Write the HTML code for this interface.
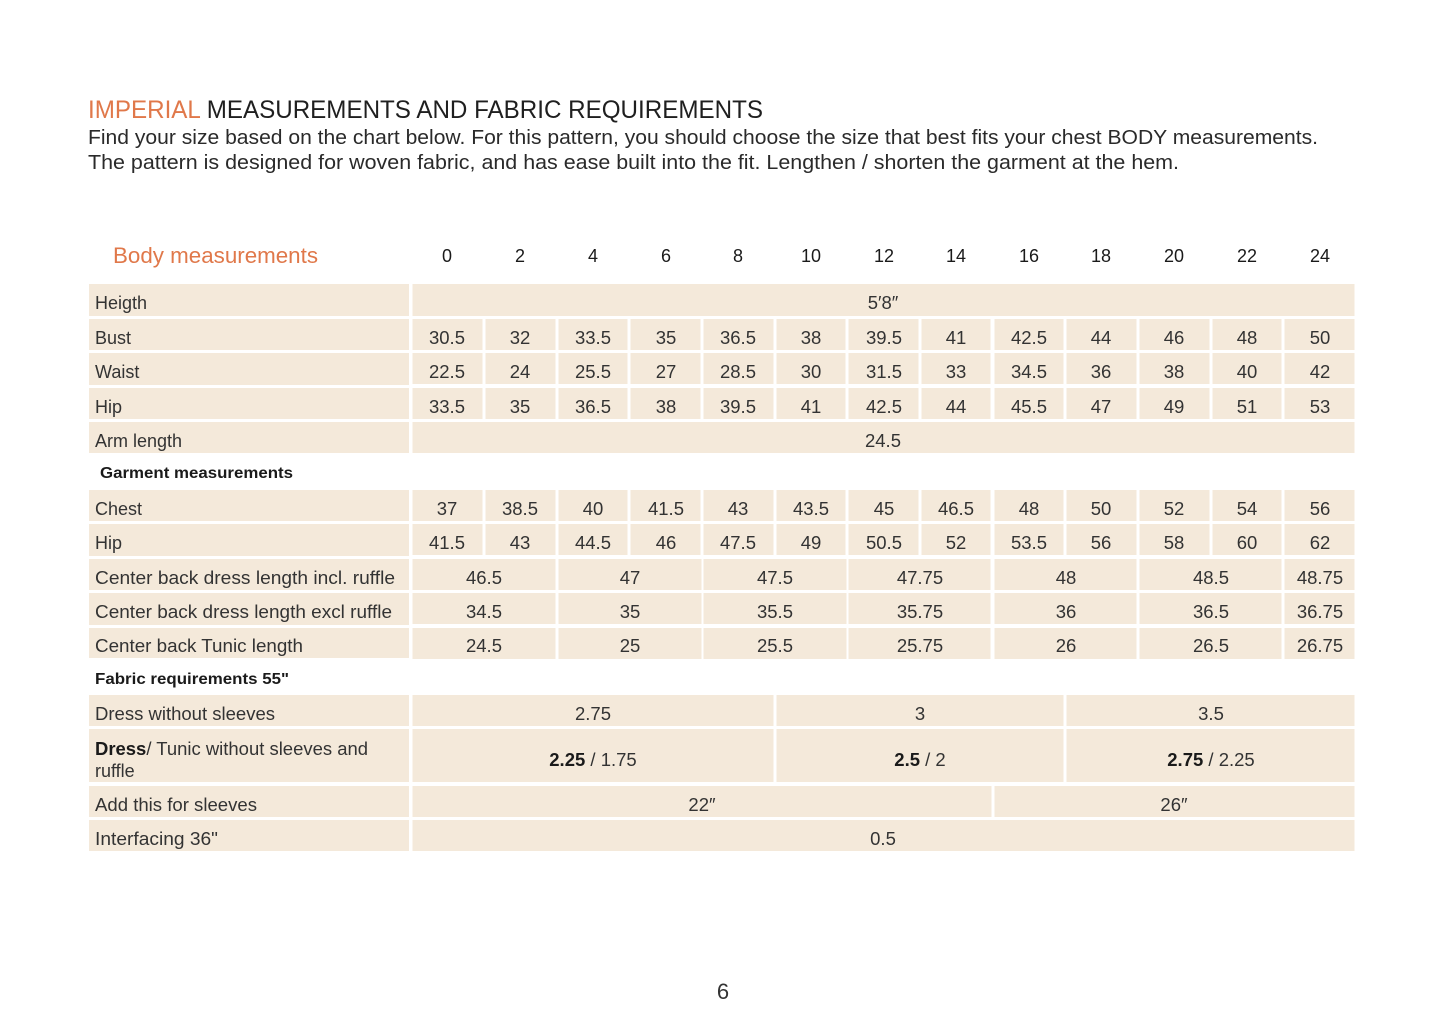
<!DOCTYPE html>
<html><head><meta charset="utf-8"><style>
html,body{margin:0;padding:0;background:#fff;}
svg{display:block;}
text{font-family:"Liberation Sans",sans-serif;}
.c{font-size:18.5px;fill:#333;text-anchor:middle;}
.l{font-size:18px;fill:#333;}
.h{font-size:18px;fill:#1a1a1a;text-anchor:middle;}
.s{font-size:16px;fill:#1a1a1a;font-weight:bold;}
rect{fill:#f4e9da;}
</style></head><body>
<svg width="1445" height="1030" viewBox="0 0 1445 1030" xmlns="http://www.w3.org/2000/svg">
<text x="88" y="118" style="font-size:25px" textLength="675" lengthAdjust="spacingAndGlyphs"><tspan fill="#e0784a">IMPERIAL</tspan><tspan fill="#1f1f1f"> MEASUREMENTS AND FABRIC REQUIREMENTS</tspan></text>
<text x="88" y="144" style="font-size:20px;fill:#2a2a2a" textLength="1230" lengthAdjust="spacingAndGlyphs">Find your size based on the chart below. For this pattern, you should choose the size that best fits your chest BODY measurements.</text>
<text x="88" y="169" style="font-size:20px;fill:#2a2a2a" textLength="1091" lengthAdjust="spacingAndGlyphs">The pattern is designed for woven fabric, and has ease built into the fit. Lengthen / shorten the garment at the hem.</text>

<text x="113" y="263" style="font-size:22px;fill:#e0784a" textLength="205" lengthAdjust="spacingAndGlyphs">Body measurements</text>
<g>
<text class="h" x="447" y="262">0</text><text class="h" x="520" y="262">2</text><text class="h" x="593" y="262">4</text><text class="h" x="666" y="262">6</text><text class="h" x="738" y="262">8</text><text class="h" x="811" y="262">10</text><text class="h" x="884" y="262">12</text><text class="h" x="956" y="262">14</text><text class="h" x="1029" y="262">16</text><text class="h" x="1101" y="262">18</text><text class="h" x="1174" y="262">20</text><text class="h" x="1247" y="262">22</text><text class="h" x="1320" y="262">24</text>
</g>

<rect x="89" y="284" width="320" height="32"/>
<rect x="89" y="319" width="320" height="31"/>
<rect x="89" y="353" width="320" height="32"/>
<rect x="89" y="388" width="320" height="31"/>
<rect x="89" y="422" width="320" height="31"/>
<rect x="89" y="490" width="320" height="31"/>
<rect x="89" y="524" width="320" height="32"/>
<rect x="89" y="559" width="320" height="31"/>
<rect x="89" y="593" width="320" height="32"/>
<rect x="89" y="628" width="320" height="30"/>
<rect x="89" y="695" width="320" height="31"/>
<rect x="89" y="729" width="320" height="53"/>
<rect x="89" y="786" width="320" height="31"/>
<rect x="89" y="820" width="320" height="31"/>

<text class="l" x="95" y="309">Heigth</text>
<text class="l" x="95" y="344">Bust</text>
<text class="l" x="95" y="378">Waist</text>
<text class="l" x="95" y="413">Hip</text>
<text class="l" x="95" y="447">Arm length</text>
<text class="s" x="100" y="478" textLength="193" lengthAdjust="spacingAndGlyphs">Garment measurements</text>
<text class="l" x="95" y="515">Chest</text>
<text class="l" x="95" y="549">Hip</text>
<text class="l" x="95" y="584" textLength="300" lengthAdjust="spacingAndGlyphs">Center back dress length incl. ruffle</text>
<text class="l" x="95" y="618" textLength="297" lengthAdjust="spacingAndGlyphs">Center back dress length excl ruffle</text>
<text class="l" x="95" y="652" textLength="208" lengthAdjust="spacingAndGlyphs">Center back Tunic length</text>
<text class="s" x="95" y="684" textLength="194" lengthAdjust="spacingAndGlyphs">Fabric requirements 55"</text>
<text class="l" x="95" y="720" textLength="180" lengthAdjust="spacingAndGlyphs">Dress without sleeves</text>
<text class="l" x="95" y="755" textLength="273" lengthAdjust="spacingAndGlyphs"><tspan font-weight="bold" fill="#1a1a1a">Dress</tspan>/ Tunic without sleeves and</text>
<text class="l" x="95" y="777">ruffle</text>
<text class="l" x="95" y="811" textLength="162" lengthAdjust="spacingAndGlyphs">Add this for sleeves</text>
<text class="l" x="95" y="845" textLength="123" lengthAdjust="spacingAndGlyphs">Interfacing 36"</text>

<rect x="412.5" y="284" width="942" height="32"/><text class="c" x="883" y="309">5′8″</text>
<rect x="412.5" y="422" width="942" height="31"/><text class="c" x="883" y="447">24.5</text>
<rect x="412.5" y="820" width="942" height="31"/><text class="c" x="883" y="845">0.5</text>

<g id="cells">
<rect x="412.5" y="319" width="70" height="31"/><rect x="485.5" y="319" width="70" height="31"/><rect x="558.5" y="319" width="69" height="31"/><rect x="630.5" y="319" width="70" height="31"/><rect x="703.5" y="319" width="70" height="31"/><rect x="776.5" y="319" width="69" height="31"/><rect x="848.5" y="319" width="70" height="31"/><rect x="921.5" y="319" width="69" height="31"/><rect x="994.5" y="319" width="69" height="31"/><rect x="1066.5" y="319" width="70" height="31"/><rect x="1139.5" y="319" width="70" height="31"/><rect x="1212.5" y="319" width="69" height="31"/><rect x="1284.5" y="319" width="70" height="31"/>
</g>
<use href="#cells" y="34"/>
<use href="#cells" y="69"/>
<use href="#cells" y="171"/>
<use href="#cells" y="205"/>

<g>
<text class="c" x="447" y="344">30.5</text><text class="c" x="520" y="344">32</text><text class="c" x="593" y="344">33.5</text><text class="c" x="666" y="344">35</text><text class="c" x="738" y="344">36.5</text><text class="c" x="811" y="344">38</text><text class="c" x="884" y="344">39.5</text><text class="c" x="956" y="344">41</text><text class="c" x="1029" y="344">42.5</text><text class="c" x="1101" y="344">44</text><text class="c" x="1174" y="344">46</text><text class="c" x="1247" y="344">48</text><text class="c" x="1320" y="344">50</text>
<text class="c" x="447" y="378">22.5</text><text class="c" x="520" y="378">24</text><text class="c" x="593" y="378">25.5</text><text class="c" x="666" y="378">27</text><text class="c" x="738" y="378">28.5</text><text class="c" x="811" y="378">30</text><text class="c" x="884" y="378">31.5</text><text class="c" x="956" y="378">33</text><text class="c" x="1029" y="378">34.5</text><text class="c" x="1101" y="378">36</text><text class="c" x="1174" y="378">38</text><text class="c" x="1247" y="378">40</text><text class="c" x="1320" y="378">42</text>
<text class="c" x="447" y="413">33.5</text><text class="c" x="520" y="413">35</text><text class="c" x="593" y="413">36.5</text><text class="c" x="666" y="413">38</text><text class="c" x="738" y="413">39.5</text><text class="c" x="811" y="413">41</text><text class="c" x="884" y="413">42.5</text><text class="c" x="956" y="413">44</text><text class="c" x="1029" y="413">45.5</text><text class="c" x="1101" y="413">47</text><text class="c" x="1174" y="413">49</text><text class="c" x="1247" y="413">51</text><text class="c" x="1320" y="413">53</text>
<text class="c" x="447" y="515">37</text><text class="c" x="520" y="515">38.5</text><text class="c" x="593" y="515">40</text><text class="c" x="666" y="515">41.5</text><text class="c" x="738" y="515">43</text><text class="c" x="811" y="515">43.5</text><text class="c" x="884" y="515">45</text><text class="c" x="956" y="515">46.5</text><text class="c" x="1029" y="515">48</text><text class="c" x="1101" y="515">50</text><text class="c" x="1174" y="515">52</text><text class="c" x="1247" y="515">54</text><text class="c" x="1320" y="515">56</text>
<text class="c" x="447" y="549">41.5</text><text class="c" x="520" y="549">43</text><text class="c" x="593" y="549">44.5</text><text class="c" x="666" y="549">46</text><text class="c" x="738" y="549">47.5</text><text class="c" x="811" y="549">49</text><text class="c" x="884" y="549">50.5</text><text class="c" x="956" y="549">52</text><text class="c" x="1029" y="549">53.5</text><text class="c" x="1101" y="549">56</text><text class="c" x="1174" y="549">58</text><text class="c" x="1247" y="549">60</text><text class="c" x="1320" y="549">62</text>
</g>

<g id="pairs">
<rect x="412.5" y="559" width="143" height="31"/><rect x="558.5" y="559" width="143" height="31"/><rect x="703.5" y="559" width="143" height="31"/><rect x="848.5" y="559" width="142" height="31"/><rect x="994.5" y="559" width="142" height="31"/><rect x="1139.5" y="559" width="142" height="31"/><rect x="1284.5" y="559" width="70" height="31"/>
</g>
<use href="#pairs" y="34"/>
<use href="#pairs" y="69"/>
<text class="c" x="484" y="584">46.5</text><text class="c" x="630" y="584">47</text><text class="c" x="775" y="584">47.5</text><text class="c" x="920" y="584">47.75</text><text class="c" x="1066" y="584">48</text><text class="c" x="1211" y="584">48.5</text><text class="c" x="1320" y="584">48.75</text>
<text class="c" x="484" y="618">34.5</text><text class="c" x="630" y="618">35</text><text class="c" x="775" y="618">35.5</text><text class="c" x="920" y="618">35.75</text><text class="c" x="1066" y="618">36</text><text class="c" x="1211" y="618">36.5</text><text class="c" x="1320" y="618">36.75</text>
<text class="c" x="484" y="652">24.5</text><text class="c" x="630" y="652">25</text><text class="c" x="775" y="652">25.5</text><text class="c" x="920" y="652">25.75</text><text class="c" x="1066" y="652">26</text><text class="c" x="1211" y="652">26.5</text><text class="c" x="1320" y="652">26.75</text>

<rect x="412.5" y="695" width="361" height="31"/><rect x="776.5" y="695" width="287" height="31"/><rect x="1066.5" y="695" width="288" height="31"/>
<text class="c" x="593" y="720">2.75</text><text class="c" x="920" y="720">3</text><text class="c" x="1211" y="720">3.5</text>
<rect x="412.5" y="729" width="361" height="53"/><rect x="776.5" y="729" width="287" height="53"/><rect x="1066.5" y="729" width="288" height="53"/>
<text class="c" x="593" y="766"><tspan font-weight="bold" fill="#1a1a1a">2.25</tspan> / 1.75</text>
<text class="c" x="920" y="766"><tspan font-weight="bold" fill="#1a1a1a">2.5</tspan> / 2</text>
<text class="c" x="1211" y="766"><tspan font-weight="bold" fill="#1a1a1a">2.75</tspan> / 2.25</text>
<rect x="412.5" y="786" width="579" height="31"/><rect x="994.5" y="786" width="360" height="31"/>
<text class="c" x="702" y="811">22″</text><text class="c" x="1174" y="811">26″</text>

<text x="723" y="999" style="font-size:22px;fill:#333;text-anchor:middle">6</text>
</svg>
</body></html>
